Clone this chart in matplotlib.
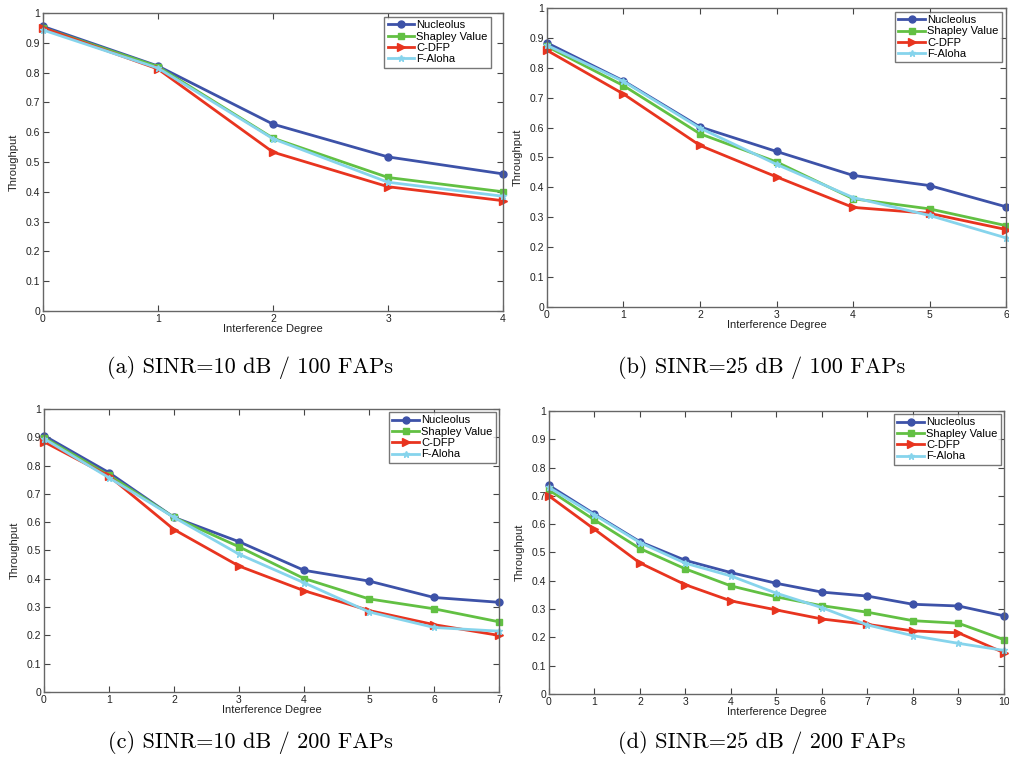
import numpy as np
import matplotlib
matplotlib.use("Agg")
import matplotlib.pyplot as plt

# ── Data ─────────────────────────────────────────────────────────────────────

SERIES = ["Nucleolus", "Shapley Value", "C-DFP", "F-Aloha"]

# (a) SINR=10 dB / 100 FAPs
a_nucleolus = [0.955, 0.822, 0.627, 0.517, 0.460]
a_shapley   = [0.950, 0.820, 0.580, 0.448, 0.400]
a_cdfp      = [0.950, 0.812, 0.533, 0.417, 0.370]
a_faloha    = [0.943, 0.815, 0.578, 0.432, 0.385]

# (b) SINR=25 dB / 100 FAPs
b_nucleolus = [0.883, 0.756, 0.602, 0.520, 0.440, 0.406, 0.335]
b_shapley   = [0.871, 0.740, 0.579, 0.485, 0.362, 0.328, 0.272]
b_cdfp      = [0.858, 0.712, 0.540, 0.435, 0.333, 0.313, 0.259]
b_faloha    = [0.875, 0.754, 0.598, 0.477, 0.366, 0.306, 0.231]

# (c) SINR=10 dB / 200 FAPs
c_nucleolus = [0.906, 0.775, 0.617, 0.531, 0.430, 0.392, 0.334, 0.317]
c_shapley   = [0.899, 0.766, 0.617, 0.513, 0.401, 0.329, 0.294, 0.248]
c_cdfp      = [0.884, 0.763, 0.574, 0.445, 0.358, 0.288, 0.238, 0.200]
c_faloha    = [0.895, 0.757, 0.617, 0.487, 0.386, 0.283, 0.228, 0.215]

# (d) SINR=25 dB / 200 FAPs
d_nucleolus = [0.737, 0.636, 0.538, 0.472, 0.429, 0.391, 0.360, 0.346, 0.317, 0.311, 0.276]
d_shapley   = [0.721, 0.615, 0.514, 0.442, 0.382, 0.343, 0.312, 0.289, 0.259, 0.250, 0.192]
d_cdfp      = [0.700, 0.582, 0.463, 0.386, 0.329, 0.297, 0.265, 0.246, 0.223, 0.216, 0.146]
d_faloha    = [0.730, 0.633, 0.535, 0.462, 0.417, 0.356, 0.305, 0.244, 0.206, 0.179, 0.154]

CAPTIONS = [
    "(a) SINR=10 dB / 100 FAPs",
    "(b) SINR=25 dB / 100 FAPs",
    "(c) SINR=10 dB / 200 FAPs",
    "(d) SINR=25 dB / 200 FAPs",
]

# ── Style ────────────────────────────────────────────────────────────────────

COLORS  = ["#3d52a8", "#62c043", "#e8341f", "#86d4ec"]
MARKERS = ["o", "s", ">", "*"]
MSIZES  = [5, 4, 6, 5]

plt.rcParams["font.family"] = ["Liberation Sans", "DejaVu Sans"]

# axes rectangles in figure fractions, legend anchor in axes coords
PANELS = [
    ([0.0426, 0.5935, 0.4560, 0.3895], (0.974, 0.987), [a_nucleolus, a_shapley, a_cdfp, a_faloha]),
    ([0.5421, 0.5987, 0.4550, 0.3910], (0.991, 0.987), [b_nucleolus, b_shapley, b_cdfp, b_faloha]),
    ([0.0436, 0.0954, 0.4510, 0.3700], (0.993, 0.989), [c_nucleolus, c_shapley, c_cdfp, c_faloha]),
    ([0.5440, 0.0928, 0.4510, 0.3700], (0.993, 0.989), [d_nucleolus, d_shapley, d_cdfp, d_faloha]),
]
CAPTION_POS = [(250 / 1009, 1 - 367 / 765), (762 / 1009, 1 - 367 / 765),
               (250 / 1009, 1 - 743 / 765), (762 / 1009, 1 - 743 / 765)]

fig = plt.figure(figsize=(10.09, 7.65), dpi=100)

for (rect, anchor, data), caption, cpos in zip(PANELS, CAPTIONS, CAPTION_POS):
    ax = fig.add_axes(rect)
    x = np.arange(len(data[0]))
    for vals, name, col, mk, ms in zip(data, SERIES, COLORS, MARKERS, MSIZES):
        ax.plot(x, vals, color=col, marker=mk, markersize=ms, linewidth=2,
                label=name, clip_on=False)
    ax.set_xlim(0, x[-1])
    ax.set_ylim(0, 1)
    ax.set_xticks(x)
    ax.set_yticks(np.arange(0, 1.01, 0.1))
    ax.set_yticklabels(["0"] + [f"{v:.1f}" for v in np.arange(0.1, 0.91, 0.1)] + ["1"])
    ax.tick_params(direction="in", top=True, right=True, length=4, width=0.8,
                   labelsize=7.5, colors="#444444", labelcolor="#222222", pad=2)
    for sp in ax.spines.values():
        sp.set_color("#666666")
        sp.set_linewidth(1.0)
    ax.set_xlabel("Interference Degree", fontsize=8, color="#222222", labelpad=0)
    ax.set_ylabel("Throughput", fontsize=8, color="#222222", labelpad=5)
    leg = ax.legend(loc="upper right", bbox_to_anchor=anchor, fontsize=8,
                    frameon=True, fancybox=False, handlelength=2.4,
                    borderpad=0.3, labelspacing=0.12, handletextpad=0.2,
                    borderaxespad=0)
    leg.get_frame().set_edgecolor("#555555")
    leg.get_frame().set_linewidth(1.0)

    # LaTeX-looking caption (Computer Modern ships with matplotlib as cmr10)
    fig.text(cpos[0], cpos[1], caption, ha="center", va="center",
             fontsize=16, family=["cmr10", "DejaVu Serif"])

fig.savefig("out.png", dpi=100)
